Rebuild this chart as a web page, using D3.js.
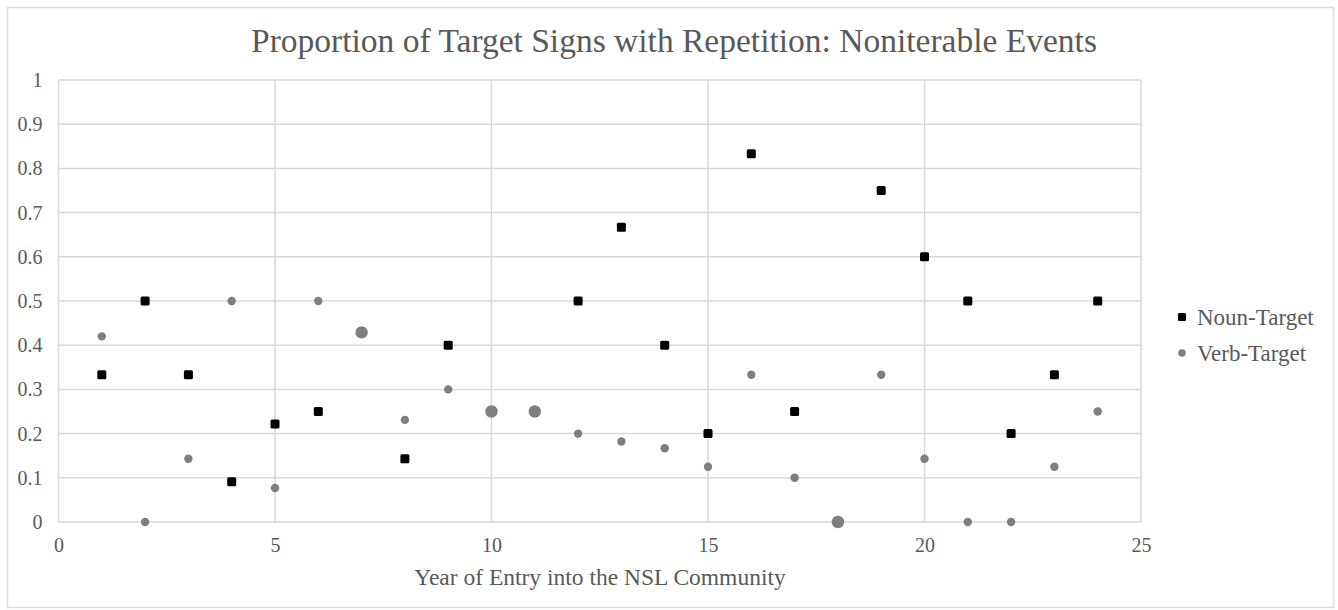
<!DOCTYPE html>
<html><head><meta charset="utf-8">
<script src="https://cdn.jsdelivr.net/npm/d3@7"></script>
<style>body{margin:0;background:#fff}svg{display:block}</style>
</head><body>
<script>
const years = [1,2,3,4,5,6,7,8,9,10,11,12,13,14,15,16,17,18,19,20,21,22,23,24];
const nounTarget = [0.333,0.5,0.333,0.091,0.222,0.25,0.429,0.143,0.4,0.25,0.25,0.5,0.667,0.4,0.2,0.833,0.25,0,0.75,0.6,0.5,0.2,0.333,0.5];
const verbTarget = [0.42,0,0.143,0.5,0.077,0.5,0.429,0.231,0.3,0.25,0.25,0.2,0.182,0.167,0.125,0.333,0.1,0,0.333,0.143,0,0,0.125,0.25];
const xTicks = [0,5,10,15,20,25];
const yTicks = [0,0.1,0.2,0.3,0.4,0.5,0.6,0.7,0.8,0.9,1];
const seriesNames = ["Noun-Target","Verb-Target"];
const titleText = "Proportion of Target Signs with Repetition: Noniterable Events";
const xLabel = "Year of Entry into the NSL Community";

const W = 1338, H = 610;
const font = "'Liberation Serif','Times New Roman',serif";
const txt = "#595959", grid = "#d9d9d9";
const svg = d3.select("body").append("svg").attr("width", W).attr("height", H);
svg.append("rect").attr("x",7.5).attr("y",7.5).attr("width",1326).attr("height",600)
  .attr("fill","#fff").attr("stroke","#dcdcdc").attr("stroke-width",1.5);

const x = d3.scaleLinear().domain([0,25]).range([58.5,1141]);
const y = d3.scaleLinear().domain([0,1]).range([522,80]);

// horizontal grid
svg.append("g").selectAll("line").data(yTicks).join("line")
  .attr("x1", x(0)).attr("x2", x(25)).attr("y1", d=>y(d)).attr("y2", d=>y(d))
  .attr("stroke", grid).attr("stroke-width", 1.5);
// vertical grid
svg.append("g").selectAll("line").data(xTicks).join("line")
  .attr("x1", d=>x(d)).attr("x2", d=>x(d)).attr("y1", y(0)).attr("y2", y(1))
  .attr("stroke", grid).attr("stroke-width", 1.5);

// axes (labels only)
const yAxis = svg.append("g").attr("transform", `translate(${x(0)},0)`)
  .call(d3.axisLeft(y).tickValues(yTicks).tickSize(0).tickPadding(16).tickFormat(d=>String(+d.toFixed(1))));
const xAxis = svg.append("g").attr("transform", `translate(0,${y(0)})`)
  .call(d3.axisBottom(x).tickValues(xTicks).tickSize(0).tickPadding(16).tickFormat(d3.format("d")));
[yAxis,xAxis].forEach(a=>{
  a.select(".domain").remove();
  a.selectAll("text").attr("fill",txt).attr("font-family",font).attr("font-size",20);
});

const nounData = years.map((d,i)=>({x:d,y:nounTarget[i]}));
const verbData = years.map((d,i)=>({x:d,y:verbTarget[i],over:Math.abs(verbTarget[i]-nounTarget[i])<0.005}));
const sq = 9;
svg.append("g").selectAll("rect").data(nounData).join("rect")
  .attr("x", d=>x(d.x)-sq/2).attr("y", d=>y(d.y)-sq/2).attr("width",sq).attr("height",sq)
  .attr("rx",1.5).attr("fill","#000");
svg.append("g").selectAll("circle").data(verbData).join("circle")
  .attr("cx", d=>x(d.x)).attr("cy", d=>y(d.y)).attr("r", d=>d.over?6.2:4.2)
  .attr("fill","#7f7f7f");

// title
svg.append("text").attr("x", 674).attr("y", 52).attr("text-anchor","middle")
  .attr("font-family",font).attr("font-size",33.5).attr("fill",txt).text(titleText);
// x label
svg.append("text").attr("x", 600).attr("y", 585).attr("text-anchor","middle")
  .attr("font-family",font).attr("font-size",23.5).attr("fill",txt).text(xLabel);

// legend
const lg = svg.append("g");
seriesNames.forEach((n,i)=>{
  const cy = 317 + i*36;
  if(i===0) lg.append("rect").attr("x",1178).attr("y",cy-4).attr("width",8).attr("height",8).attr("rx",1.2).attr("fill","#000");
  else lg.append("circle").attr("cx",1182).attr("cy",cy).attr("r",3.8).attr("fill","#7f7f7f");
  lg.append("text").attr("x",1197).attr("y",cy+8).attr("font-family",font).attr("font-size",23)
    .attr("fill",txt).text(n);
});
</script>
</body></html>
